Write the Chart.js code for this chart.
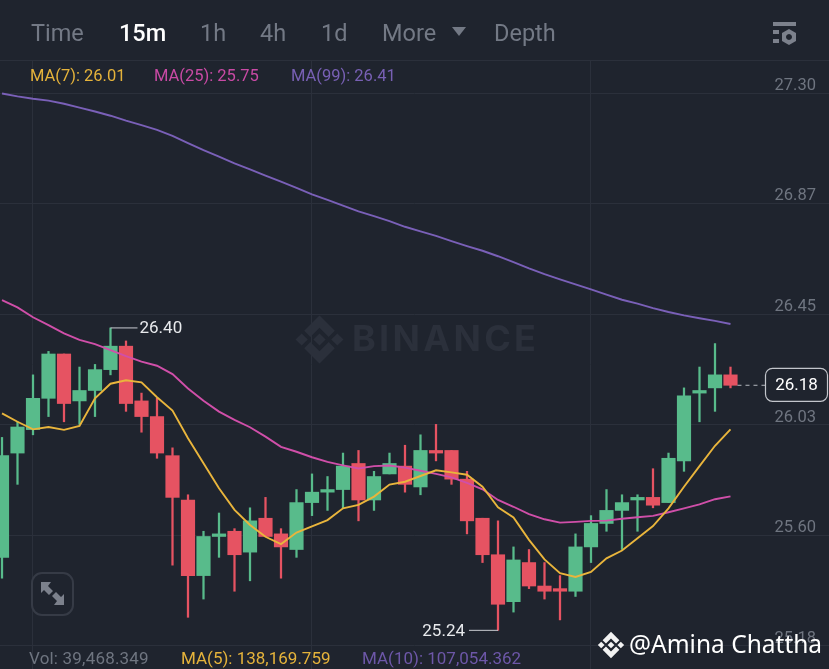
<!DOCTYPE html>
<html>
<head>
<meta charset="utf-8">
<title>BINANCE 15m</title>
<script src="https://cdn.jsdelivr.net/npm/chart.js@4"></script>
<style>
  html, body { margin: 0; padding: 0; background: #1f242e; }
  #wrap { position: relative; width: 829px; height: 669px; overflow: hidden; background: #1f242e; font-family: Roboto, sans-serif; }
  canvas { position: absolute; left: 0; top: 0; }
  .txt { position: absolute; white-space: nowrap; line-height: 1; }
  .tab { top: 22px; font-size: 23.5px; color: #737985; }
  .tab.on { color: #ffffff; font-weight: 500; }
  .leg { top: 68px; font-size: 16.5px; }
  .bot { top: 650px; font-size: 17px; }
  #topline { position: absolute; left: 0; right: 0; top: 60px; height: 1px; background: #2b303b; }
  svg { position: absolute; overflow: visible; }
</style>
</head>
<body>
<div id="wrap">
  <canvas id="chart" width="829" height="669"></canvas>
  <div id="topline"></div>

  <div class="txt tab" style="left:31px">Time</div>
  <div class="txt tab on" style="left:119px">15m</div>
  <div class="txt tab" style="left:200px">1h</div>
  <div class="txt tab" style="left:260px">4h</div>
  <div class="txt tab" style="left:321px">1d</div>
  <div class="txt tab" style="left:382px">More</div>
  <svg style="left:452px;top:27px" width="14" height="10"><polygon points="0,0 14,0 7,9" fill="#737985"/></svg>
  <div class="txt tab" style="left:494px">Depth</div>

  <svg style="left:772px;top:21px" width="26" height="24" viewBox="0 0 26 24" fill="#7c818c">
    <rect x="1" y="1" width="23" height="4"/>
    <rect x="1" y="9" width="6" height="4"/>
    <rect x="1" y="18" width="6" height="4"/>
    <path fill-rule="evenodd" d="M17 8 L24 12 L24 20 L17 24 L10 20 L10 12 Z M17 13 a3 3 0 1 0 0.01 0 Z"/>
  </svg>

  <div class="txt leg" style="left:30px;color:#e5b33b">MA(7): 26.01</div>
  <div class="txt leg" style="left:154px;color:#c94aa5">MA(25): 25.75</div>
  <div class="txt leg" style="left:291px;color:#7860b4">MA(99): 26.41</div>

  <svg style="left:294px;top:314px" width="51" height="51" viewBox="0 0 100 100"><g fill="#2b303b">
    <polygon points="50,38 62,50 50,62 38,50"/><polygon points="3,50 15,38 27,50 15,62"/><polygon points="73,50 85,38 97,50 85,62"/>
    <polygon points="50,3 80,33 68,45 50,27 32,45 20,33"/><polygon points="50,97 80,67 68,55 50,73 32,55 20,67"/>
  </g></svg>
  <div class="txt" style="left:352px;top:320px;font-family:Inter,sans-serif;font-weight:700;font-size:36px;letter-spacing:3.3px;color:#2b303b">BINANCE</div>

  <svg style="left:31px;top:572px" width="43" height="44" viewBox="0 0 43 44">
    <rect x="1" y="1" width="41" height="42" rx="10" fill="none" stroke="#363b46" stroke-width="2"/>
    <g fill="#7c818c">
      <polygon points="10,10 20,10 17,14 22,19 18,23 13,18 10,21"/>
      <polygon points="33,33 23,33 26,29 21,24 25,20 30,25 33,22"/>
    </g>
  </svg>

  <div class="txt bot" style="left:29px;color:#6f7580;letter-spacing:0.2px">Vol: 39,468.349</div>
  <div class="txt bot" style="left:181px;color:#e5b33b">MA(5): 138,169.759</div>
  <div class="txt bot" style="left:362px;color:#6d57a8">MA(10): 107,054.362</div>

  <svg style="left:597px;top:631px" width="28" height="28" viewBox="0 0 100 100"><g fill="#f2f2f2">
    <polygon points="50,38 62,50 50,62 38,50"/><polygon points="3,50 15,38 27,50 15,62"/><polygon points="73,50 85,38 97,50 85,62"/>
    <polygon points="50,3 80,33 68,45 50,27 32,45 20,33"/><polygon points="50,97 80,67 68,55 50,73 32,55 20,67"/>
  </g></svg>
  <div class="txt" style="left:629px;top:632px;font-family:'Noto Sans',sans-serif;font-size:24.5px;color:#ffffff">@Amina Chattha</div>
</div>

<script>
const opens = [25.52, 25.92, 26.01, 26.13, 26.30, 26.12, 26.16, 26.24, 26.33, 26.12, 26.06, 25.91,
  25.74, 25.45, 25.60, 25.62, 25.54, 25.67, 25.61, 25.55, 25.73, 25.77, 25.78, 25.88,
  25.74, 25.84, 25.87, 25.79, 25.93, 25.93, 25.82, 25.67, 25.53, 25.35, 25.50, 25.41,
  25.40, 25.39, 25.56, 25.65, 25.70, 25.74, 25.75, 25.73, 25.89, 26.15, 26.17, 26.22];
const closes = [25.91, 26.02, 26.13, 26.30, 26.11, 26.16, 26.24, 26.33, 26.11, 26.06, 25.92, 25.75,
  25.45, 25.60, 25.61, 25.53, 25.66, 25.60, 25.56, 25.73, 25.77, 25.78, 25.87, 25.74,
  25.83, 25.88, 25.80, 25.93, 25.92, 25.82, 25.66, 25.53, 25.34, 25.51, 25.41, 25.39,
  25.39, 25.56, 25.65, 25.70, 25.73, 25.75, 25.72, 25.90, 26.14, 26.16, 26.22, 26.18];
const highs = [25.98, 26.04, 26.22, 26.31, 26.30, 26.25, 26.26, 26.40, 26.35, 26.15, 26.13, 25.94,
  25.76, 25.62, 25.69, 25.63, 25.71, 25.75, 25.63, 25.78, 25.84, 25.83, 25.92, 25.93,
  25.85, 25.92, 25.95, 25.99, 26.03, 25.93, 25.85, 25.67, 25.66, 25.56, 25.55, 25.50,
  25.45, 25.61, 25.68, 25.78, 25.76, 25.76, 25.86, 25.92, 26.17, 26.25, 26.34, 26.25];
const lows = [25.44, 25.80, 25.99, 26.06, 26.04, 26.03, 26.06, 26.22, 26.08, 26.00, 25.90, 25.49,
  25.29, 25.36, 25.52, 25.39, 25.43, 25.60, 25.44, 25.52, 25.68, 25.70, 25.71, 25.66,
  25.70, 25.84, 25.77, 25.76, 25.89, 25.80, 25.61, 25.50, 25.24, 25.31, 25.40, 25.36,
  25.28, 25.37, 25.50, 25.62, 25.55, 25.62, 25.71, 25.73, 25.85, 26.04, 26.08, 26.17];

const ma7 = [26.072, 26.04, 26.011, 26.02, 26.009, 26.024, 26.13, 26.186, 26.199, 26.191, 26.134, 26.083,
  25.977, 25.881, 25.785, 25.702, 25.644, 25.599, 25.571, 25.615, 25.639, 25.663, 25.708, 25.721,
  25.753, 25.799, 25.81, 25.832, 25.854, 25.846, 25.837, 25.791, 25.712, 25.673, 25.587, 25.512,
  25.459, 25.445, 25.464, 25.516, 25.546, 25.593, 25.64, 25.708, 25.791, 25.87, 25.948, 26.011];
const ma25 = [26.507, 26.479, 26.441, 26.411, 26.379, 26.354, 26.338, 26.315, 26.292, 26.271, 26.255, 26.223,
  26.168, 26.121, 26.079, 26.047, 26.019, 25.983, 25.944, 25.925, 25.904, 25.886, 25.873, 25.861,
  25.87, 25.872, 25.864, 25.852, 25.84, 25.827, 25.806, 25.781, 25.74, 25.714, 25.686, 25.666,
  25.653, 25.656, 25.66, 25.661, 25.668, 25.674, 25.679, 25.693, 25.708, 25.723, 25.743, 25.754];
const ma99 = [27.299, 27.288, 27.279, 27.272, 27.26, 27.245, 27.23, 27.214, 27.195, 27.178, 27.16, 27.137,
  27.109, 27.082, 27.057, 27.031, 27.008, 26.984, 26.961, 26.937, 26.912, 26.891, 26.869, 26.847,
  26.829, 26.81, 26.788, 26.77, 26.753, 26.733, 26.714, 26.696, 26.675, 26.652, 26.628, 26.606,
  26.586, 26.567, 26.548, 26.528, 26.508, 26.493, 26.476, 26.461, 26.448, 26.437, 26.427, 26.415];

const priceTicks = [27.3, 26.876, 26.452, 26.028, 25.604, 25.18];
const priceLabels = ["27.30", "26.87", "26.45", "26.03", "25.60", "25.18"];
const timeTicks = [2, 20, 38];

const upColor = "#58bb8b";
const downColor = "#e65362";
const gridColor = "#2b303b";

const candleColors = opens.map((o, i) => (closes[i] >= o ? upColor : downColor));

function series(values) {
  return values.map((y, x) => ({ x, y }));
}

function lineDataset(label, values, color) {
  return {
    type: "line",
    label,
    data: series(values),
    borderColor: color,
    borderWidth: 1.9,
    pointRadius: 0,
    tension: 0,
    order: 1,
  };
}

// high / low callouts and the last price box, placed from the scales
const calloutPlugin = {
  id: "callouts",
  afterDatasetsDraw(chart) {
    const { ctx, scales } = chart;
    const hi = highs.indexOf(Math.max(...highs));
    const lo = lows.indexOf(Math.min(...lows));
    const last = closes.length - 1;

    ctx.save();
    ctx.font = "17px Roboto";
    ctx.textBaseline = "middle";
    ctx.strokeStyle = "#c9ccd2";
    ctx.lineWidth = 1;

    const hx = scales.x.getPixelForValue(hi);
    const hy = scales.y.getPixelForValue(highs[hi]);
    ctx.beginPath();
    ctx.moveTo(hx, hy);
    ctx.lineTo(hx + 27, hy);
    ctx.stroke();
    ctx.fillStyle = "#e8eaed";
    ctx.textAlign = "left";
    ctx.fillText(highs[hi].toFixed(2), hx + 29, hy + 1);

    const lx = scales.x.getPixelForValue(lo);
    const ly = scales.y.getPixelForValue(lows[lo]);
    ctx.beginPath();
    ctx.moveTo(lx, ly);
    ctx.lineTo(lx - 29, ly);
    ctx.stroke();
    ctx.textAlign = "right";
    ctx.fillText(lows[lo].toFixed(2), lx - 33, ly + 1);

    const px = scales.x.getPixelForValue(last);
    const py = scales.y.getPixelForValue(closes[last]);
    ctx.setLineDash([4, 4]);
    ctx.strokeStyle = "#b4b8bf";
    ctx.beginPath();
    ctx.moveTo(px + 7, py);
    ctx.lineTo(px + 35, py);
    ctx.stroke();
    ctx.setLineDash([]);
    ctx.beginPath();
    ctx.roundRect(px + 35, py - 17, 62, 33, 7);
    ctx.fillStyle = "#1f242e";
    ctx.fill();
    ctx.strokeStyle = "#c2c5cb";
    ctx.lineWidth = 1.2;
    ctx.stroke();
    ctx.fillStyle = "#ffffff";
    ctx.textAlign = "center";
    ctx.fillText(closes[last].toFixed(2), px + 66, py + 0.5);
    ctx.restore();
  },
};

new Chart(document.getElementById("chart"), {
  type: "bar",
  data: {
    datasets: [
      lineDataset("MA(7)", ma7, "#e9b53c"),
      lineDataset("MA(25)", ma25, "#d04fa9"),
      lineDataset("MA(99)", ma99, "#7a60b8"),
      {
        label: "Body",
        data: opens.map((o, i) => ({ x: i, y: [o, closes[i]] })),
        backgroundColor: candleColors,
        barThickness: 13.5,
        grouped: false,
        order: 2,
      },
      {
        label: "Wick",
        data: lows.map((l, i) => ({ x: i, y: [l, highs[i]] })),
        backgroundColor: candleColors,
        barThickness: 1.6,
        grouped: false,
        order: 3,
      },
    ],
  },
  options: {
    responsive: false,
    animation: false,
    devicePixelRatio: 1,
    layout: { padding: { top: 60, left: 0, right: 0, bottom: 0 } },
    plugins: { legend: { display: false }, tooltip: { enabled: false } },
    scales: {
      x: {
        type: "linear",
        offset: false,
        min: -0.129,
        max: 53.355,
        afterBuildTicks(scale) {
          scale.ticks = timeTicks.map((value) => ({ value }));
        },
        afterFit(scale) {
          scale.height = 0;
        },
        ticks: { display: false },
        border: { display: false },
        grid: { offset: false, color: gridColor, drawTicks: false, lineWidth: 1 },
      },
      y: {
        position: "right",
        min: 25.0917,
        max: 27.4277,
        afterBuildTicks(scale) {
          scale.ticks = priceTicks.map((value) => ({ value }));
        },
        afterFit(scale) {
          scale.width = 0;
        },
        ticks: {
          mirror: true,
          padding: -13,
          labelOffset: -7.5,
          color: "#6f7580",
          font: { family: "Roboto", size: 16.5 },
          callback(value, index) {
            return priceLabels[index];
          },
        },
        border: { display: false },
        grid: { color: gridColor, drawTicks: false, lineWidth: 1 },
      },
    },
  },
  plugins: [calloutPlugin],
});
</script>
</body>
</html>
